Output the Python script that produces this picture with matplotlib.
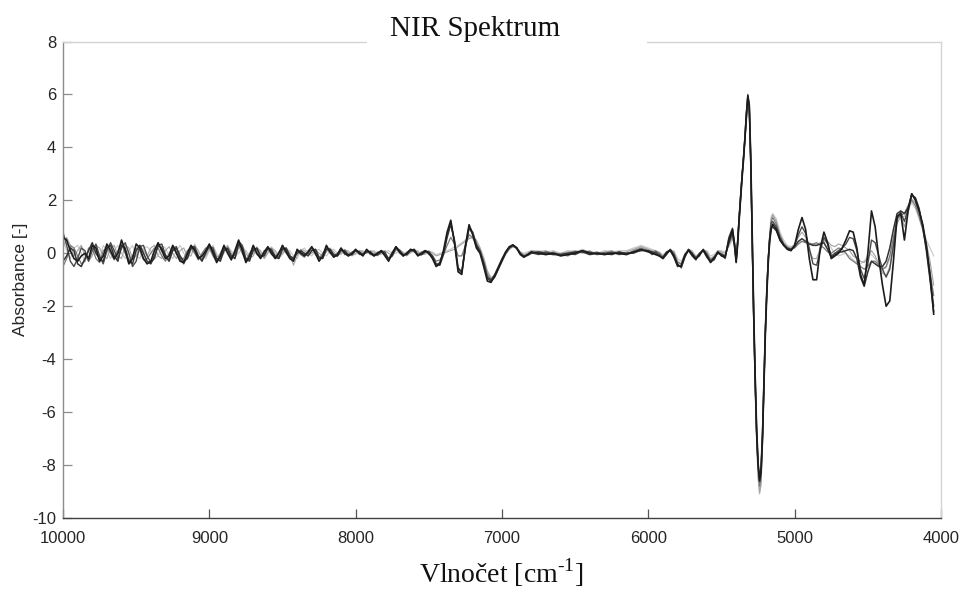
import numpy as np
import matplotlib
matplotlib.use("Agg")
import matplotlib.pyplot as plt
from matplotlib.patches import Rectangle

plt.rcParams["mathtext.fontset"] = "custom"
plt.rcParams["mathtext.rm"] = "Liberation Serif"

# Wavenumber grid [cm-1]: finer steps around the strong 5300 cm-1 band
wavenumber = np.concatenate([
    np.arange(10000, 6799, -25),
    np.arange(6750, 5999, -50),
    np.arange(5975, 5424, -25),
    np.arange(5410, 5159, -10),
    np.arange(5150, 4049, -25),
])

spectrum_1 = [
    0.6, 0.5, 0.1, -0.2, -0.3, -0.1, 0.0, -0.2,
    0.3, 0.2, -0.3, -0.1, 0.35, 0.1, -0.2, 0.0,
    0.5, 0.1, -0.4, -0.2, 0.35, 0.2, -0.2, -0.4,
    -0.3, 0.1, 0.4, 0.1, -0.2, -0.1, 0.3, 0.0,
    -0.3, -0.35, 0.0, 0.3, 0.1, -0.2, -0.1, 0.1,
    0.35, 0.0, -0.35, -0.1, 0.3, 0.0, -0.25, 0.1,
    0.5, 0.1, -0.35, -0.1, 0.3, 0.0, -0.2, 0.05,
    0.25, 0.0, -0.2, 0.0, 0.3, 0.05, -0.2, -0.3,
    0.15, 0.0, -0.1, 0.05, 0.25, 0.0, -0.3, -0.1,
    0.3, 0.05, -0.15, -0.05, 0.2, 0.0, -0.1, 0.0,
    0.15, 0.0, -0.1, 0.15, 0.0, -0.1, 0.0, 0.1,
    -0.1, -0.3, 0.0, 0.25, 0.05, -0.1, 0.0, 0.15,
    0.1, -0.1, 0.0, 0.1, 0.0, -0.2, -0.5, -0.4,
    0.1, 0.8, 1.25, 0.4, -0.7, -0.8, 0.3, 1.08,
    0.7, 0.2, 0.0, -0.5, -1.05, -1.1, -0.85, -0.55,
    -0.25, 0.05, 0.25, 0.32, 0.2, -0.05, -0.15, -0.05,
    0.05,
    0.0, -0.05, 0.0, -0.1, -0.05, 0.0, 0.1, 0.0,
    0.0, -0.05, 0.0, 0.0, -0.05, 0.05, 0.15, 0.05,
    0.0, -0.05, -0.1, -0.2, 0.0, 0.12, -0.1, -0.45, -0.5, -0.1, 0.13, -0.05,
    -0.2, -0.05, 0.13, -0.1, -0.35, -0.2, 0.05, -0.1, -0.15, 0.5, 0.9,
    0.3, -0.35, 0.3, 1.2, 2.0, 2.8, 3.5, 4.3, 5.2, 5.95, 5.6, 3.6, 0.6,
    -2.2, -4.6, -6.6, -7.9, -8.6, -8.3, -7.0, -5.0, -3.0, -1.5, -0.3, 0.5, 0.9,
    1.1, 0.9, 0.5, 0.3, 0.15, 0.1, 0.3, 0.9,
    1.35, 0.9, -0.2, -1.0, -1.0, 0.2, 0.8, 0.4,
    -0.2, -0.1, 0.0, 0.2, 0.5, 0.85, 0.8, 0.2,
    -0.8, -1.2, 0.0, 1.6, 1.0, -0.2, -1.2, -2.0,
    -1.8, -0.3, 1.4, 1.5, 0.5, 1.6, 2.25, 2.0,
    1.6, 1.1, 0.3, -0.8, -2.3,
]

spectrum_2 = [
    -0.3, -0.1, 0.2, 0.1, -0.4, -0.5, -0.2, 0.1,
    0.4, 0.0, -0.2, -0.3, 0.2, 0.3, -0.1, -0.3,
    0.3, 0.2, -0.3, -0.4, 0.1, 0.3, 0.0, -0.3,
    -0.4, -0.1, 0.3, 0.2, -0.1, -0.3, 0.1, 0.2,
    -0.1, -0.3, -0.2, 0.2, 0.2, -0.1, -0.3, 0.0,
    0.3, 0.1, -0.2, -0.3, 0.1, 0.2, -0.1, -0.2,
    0.35, 0.2, -0.2, -0.25, 0.1, 0.2, -0.1, -0.1,
    0.2, 0.1, -0.15, -0.2, 0.15, 0.2, -0.1, -0.2,
    0.0, 0.1, 0.0, -0.1, 0.1, 0.15, -0.15, -0.2,
    0.15, 0.15, -0.05, -0.1, 0.1, 0.1, -0.05, -0.05,
    0.1, 0.05, -0.05, 0.05, 0.05, -0.05, -0.05, 0.05,
    0.0, -0.2, -0.1, 0.2, 0.1, -0.05, -0.05, 0.1,
    0.15, -0.05, -0.05, 0.05, 0.05, -0.1, -0.4, -0.45,
    -0.05, 0.6, 1.1, 0.5, -0.55, -0.7, 0.2, 0.95,
    0.75, 0.3, 0.05, -0.4, -0.95, -1.05, -0.9, -0.6,
    -0.3, 0.0, 0.2, 0.3, 0.22, 0.0, -0.12, -0.08,
    0.0,
    0.05, 0.0, -0.05, -0.05, 0.0, 0.05, 0.05, -0.05,
    0.0, 0.0, -0.05, 0.05, 0.0, 0.05, 0.1, 0.1,
    0.05, 0.0, -0.1, -0.15, 0.05, 0.1, -0.15, -0.5, -0.45, -0.05, 0.1, -0.1,
    -0.25, 0.0, 0.1, -0.15, -0.3, -0.15, 0.0, -0.05, -0.1, 0.4, 0.8,
    0.2, -0.3, 0.4, 1.3, 2.1, 2.9, 3.6, 4.4, 5.3, 5.9, 5.5, 3.4, 0.4,
    -2.4, -4.8, -6.8, -8.0, -8.5, -8.1, -6.8, -4.8, -2.8, -1.3, -0.2, 0.6, 1.0,
    1.0, 0.85, 0.5, 0.3, 0.2, 0.15, 0.25, 0.45,
    0.55, 0.45, 0.35, 0.3, 0.3, 0.35, 0.4, 0.15,
    -0.15, -0.05, 0.05, 0.05, 0.1, 0.15, 0.1, -0.2,
    -0.9, -1.25, -0.7, -0.3, -0.4, -0.5, -0.5, -0.3,
    0.2, 0.9, 1.5, 1.6, 1.5, 1.7, 2.2, 2.1,
    1.7, 1.0, 0.1, -1.0, -2.2,
]

spectrum_3 = [
    0.8, 0.3, -0.3, -0.5, -0.2, 0.2, 0.1, -0.3,
    0.1, 0.35, -0.1, -0.4, 0.1, 0.4, 0.1, -0.2,
    0.2, 0.4, 0.0, -0.5, -0.3, 0.25, 0.3, -0.1,
    -0.35, -0.2, 0.3, 0.35, -0.05, -0.25, 0.2, 0.25,
    -0.2, -0.4, -0.1, 0.25, 0.25, -0.15, -0.25, 0.05,
    0.25, 0.2, -0.25, -0.2, 0.2, 0.15, -0.2, -0.05,
    0.45, 0.3, -0.25, -0.3, 0.2, 0.15, -0.15, -0.05,
    0.2, 0.15, -0.1, -0.15, 0.2, 0.1, -0.15, -0.25,
    0.1, 0.05, -0.05, 0.0, 0.2, 0.1, -0.2, -0.15,
    0.2, 0.1, -0.1, -0.1, 0.15, 0.05, -0.1, 0.0,
    0.1, 0.05, -0.05, 0.1, 0.05, -0.1, -0.05, 0.1,
    0.05, -0.25, -0.05, 0.25, 0.1, -0.1, 0.0, 0.1,
    0.1, -0.05, -0.05, 0.1, 0.05, -0.15, -0.45, -0.35,
    0.05, 0.7, 1.15, 0.45, -0.6, -0.75, 0.25, 1.0,
    0.8, 0.35, 0.1, -0.35, -0.9, -1.0, -0.8, -0.5,
    -0.2, 0.05, 0.22, 0.28, 0.18, -0.02, -0.1, -0.05,
    0.02,
    -0.05, 0.05, 0.0, -0.05, 0.0, -0.05, 0.08, 0.05,
    -0.05, 0.0, 0.05, -0.05, 0.0, 0.0, 0.12, 0.1,
    -0.05, 0.05, -0.05, -0.2, -0.05, 0.15, -0.05, -0.4, -0.55, -0.15, 0.15, 0.0,
    -0.2, -0.1, 0.15, -0.05, -0.3, -0.25, 0.05, -0.05, -0.2, 0.6, 0.95,
    0.35, -0.3, 0.35, 1.25, 2.05, 2.85, 3.55, 4.35, 5.25, 6.0, 5.55, 3.55, 0.5,
    -2.3, -4.7, -6.7, -8.0, -8.6, -8.2, -6.9, -4.9, -2.9, -1.4, -0.2, 0.6, 1.15,
    1.2, 1.0, 0.6, 0.35, 0.15, 0.1, 0.3, 0.7,
    1.0, 0.75, 0.2, -0.4, -0.45, 0.1, 0.6, 0.35,
    -0.1, 0.0, 0.1, 0.2, 0.35, 0.6, 0.55, 0.1,
    -0.6, -0.95, -0.4, 0.5, 0.4, -0.1, -0.6, -0.9,
    -0.6, 0.3, 1.3, 1.55, 1.2, 1.7, 2.25, 2.05,
    1.65, 1.05, 0.2, -0.9, -2.0,
]

spectrum_4 = [
    -0.5, -0.2, 0.3, 0.2, -0.1, -0.4, -0.3, 0.2,
    0.2, -0.2, -0.35, 0.1, 0.2, 0.0, -0.25, 0.1,
    0.35, 0.0, -0.3, -0.1, 0.2, 0.1, -0.25, -0.2,
    0.0, 0.2, 0.2, -0.1, -0.3, 0.0, 0.25, 0.05,
    -0.2, -0.2, 0.1, 0.2, 0.0, -0.25, 0.0, 0.2,
    0.2, -0.1, -0.3, 0.0, 0.25, 0.05, -0.2, 0.0,
    0.3, 0.0, -0.3, 0.0, 0.2, -0.05, -0.15, 0.1,
    0.15, -0.05, -0.15, 0.05, 0.2, 0.0, -0.15, -0.15,
    0.1, -0.05, -0.15, 0.1, 0.2, -0.05, -0.2, 0.0,
    0.2, 0.0, -0.1, 0.0, 0.15, -0.05, -0.05, 0.05,
    0.1, -0.05, 0.0, 0.1, -0.05, -0.05, 0.05, 0.05,
    -0.05, -0.2, 0.05, 0.2, 0.0, -0.1, 0.05, 0.1,
    0.05, -0.05, 0.05, 0.1, -0.05, -0.1, -0.3, -0.25,
    -0.05, 0.3, 0.6, 0.35, -0.1, -0.1, 0.3, 0.7,
    0.6, 0.3, 0.05, -0.3, -0.8, -1.0, -0.85, -0.55,
    -0.25, 0.0, 0.2, 0.28, 0.2, 0.0, -0.1, -0.05,
    0.05,
    0.0, -0.05, 0.05, -0.05, -0.1, 0.05, 0.1, 0.0,
    0.05, -0.05, 0.0, 0.05, -0.05, 0.1, 0.2, 0.1,
    0.05, 0.1, 0.0, -0.15, 0.05, 0.15, 0.0, -0.35, -0.4, -0.05, 0.15, 0.0,
    -0.15, 0.0, 0.15, 0.0, -0.25, -0.15, 0.05, 0.0, -0.1, 0.35, 0.7,
    0.25, -0.2, 0.45, 1.3, 2.1, 2.9, 3.6, 4.3, 5.1, 5.8, 5.45, 3.4, 0.3,
    -2.5, -4.9, -6.9, -8.2, -8.8, -8.5, -7.1, -5.0, -2.9, -1.3, -0.1, 0.7, 1.2,
    1.35, 1.1, 0.65, 0.35, 0.2, 0.15, 0.2, 0.35,
    0.45, 0.4, 0.35, 0.35, 0.4, 0.3, 0.2, 0.05,
    0.0, 0.1, 0.2, 0.15, 0.0, -0.2, -0.3, -0.4,
    -0.5, -0.6, -0.5, -0.3, -0.3, -0.45, -0.6, -0.5,
    -0.1, 0.6, 1.3, 1.45, 1.5, 1.8, 2.0, 1.8,
    1.4, 0.9, 0.2, -0.7, -1.6,
]

spectrum_5 = [
    0.2, 0.6, 0.3, -0.1, 0.1, 0.3, -0.1, -0.3,
    -0.1, 0.3, 0.2, -0.1, -0.2, 0.2, 0.3, -0.1,
    -0.2, 0.3, 0.2, -0.2, -0.1, 0.3, 0.1, -0.1,
    0.2, 0.3, -0.1, -0.2, 0.1, 0.25, 0.0, -0.2,
    0.1, 0.2, -0.1, -0.1, 0.3, 0.1, -0.2, -0.1,
    0.15, 0.25, -0.1, -0.2, 0.1, 0.3, 0.0, -0.2,
    0.2, 0.3, 0.0, -0.2, -0.1, 0.2, 0.1, -0.2,
    0.0, 0.2, 0.1, -0.1, 0.0, 0.2, 0.0, -0.45,
    -0.1, 0.15, 0.1, -0.05, 0.0, 0.15, 0.0, -0.1,
    0.05, 0.2, 0.05, -0.1, 0.0, 0.15, 0.05, -0.1,
    0.0, 0.1, 0.05, 0.0, 0.1, 0.05, -0.1, 0.0,
    0.1, 0.0, -0.1, 0.1, 0.15, 0.0, -0.1, 0.05,
    0.15, 0.05, -0.05, 0.0, 0.1, 0.0, -0.1, -0.05,
    0.0, 0.05, 0.1, 0.15, 0.25, 0.35, 0.45, 0.55,
    0.6, 0.5, 0.2, -0.2, -0.7, -0.95, -0.9, -0.6,
    -0.3, -0.05, 0.15, 0.25, 0.2, 0.05, -0.05, 0.0,
    0.1,
    0.05, 0.1, -0.05, 0.0, 0.05, 0.1, 0.0, 0.1,
    -0.05, 0.05, 0.1, 0.0, 0.05, 0.15, 0.25, 0.15,
    0.1, 0.05, 0.05, -0.1, 0.0, 0.1, 0.05, -0.3, -0.4, -0.1, 0.1, 0.05,
    -0.15, -0.05, 0.1, 0.05, -0.2, -0.1, 0.1, 0.05, 0.0, 0.3, 0.6,
    0.3, -0.1, 0.5, 1.4, 2.2, 2.9, 3.6, 4.3, 5.0, 5.7, 5.3, 3.2, 0.2,
    -2.7, -5.1, -7.1, -8.4, -9.05, -8.7, -7.3, -5.2, -3.1, -1.4, -0.1, 0.75, 1.3,
    1.45, 1.2, 0.7, 0.4, 0.25, 0.2, 0.35, 0.6,
    0.8, 0.6, 0.1, -0.2, -0.2, 0.2, 0.5, 0.45,
    0.3, 0.25, 0.35, 0.3, 0.2, 0.1, -0.1, -0.2,
    -0.3, -0.35, -0.2, 0.1, -0.1, -0.4, -0.75, -0.85,
    -0.5, 0.3, 1.1, 1.45, 1.0, 1.55, 2.05, 1.9,
    1.5, 1.0, 0.4, -0.3, -1.2,
]

spectrum_6 = [
    0.5, 0.1, -0.2, 0.2, 0.3, 0.0, -0.3, 0.1,
    0.3, 0.0, -0.2, 0.3, 0.1, -0.2, 0.1, 0.3,
    0.0, -0.2, 0.1, 0.3, -0.1, -0.2, 0.2, 0.25,
    0.1, -0.2, -0.1, 0.3, 0.2, -0.1, -0.2, 0.1,
    0.3, 0.0, -0.2, 0.1, 0.35, 0.0, -0.1, -0.2,
    0.1, 0.3, 0.0, -0.2, 0.0, 0.25, 0.1, -0.1,
    0.0, 0.2, 0.1, -0.1, 0.0, 0.25, 0.0, -0.2,
    0.1, 0.25, 0.0, -0.2, -0.05, 0.15, 0.1, -0.1,
    -0.2, 0.1, 0.2, 0.0, -0.1, 0.1, 0.15, 0.0,
    -0.1, 0.1, 0.15, 0.0, -0.05, 0.1, 0.1, -0.05,
    -0.05, 0.1, 0.1, 0.0, 0.05, 0.1, 0.0, -0.05,
    0.05, 0.1, 0.0, 0.0, 0.1, 0.05, -0.05, 0.0,
    0.1, 0.1, -0.05, -0.05, 0.05, 0.05, -0.05, 0.0,
    0.05, 0.1, 0.15, 0.25, 0.3, 0.4, 0.5, 0.6,
    0.55, 0.45, 0.2, -0.15, -0.65, -0.9, -0.85, -0.55,
    -0.25, 0.0, 0.15, 0.25, 0.2, 0.05, 0.0, 0.05,
    0.1,
    0.1, 0.05, 0.1, 0.0, 0.1, 0.05, 0.15, 0.05,
    0.0, 0.1, 0.05, 0.1, 0.1, 0.2, 0.3, 0.2,
    0.15, 0.1, 0.0, -0.05, 0.05, 0.1, 0.1, -0.2, -0.3, 0.0, 0.15, 0.1,
    -0.1, 0.0, 0.1, 0.1, -0.1, -0.05, 0.1, 0.1, 0.05, 0.25, 0.5,
    0.35, 0.0, 0.55, 1.45, 2.25, 2.95, 3.6, 4.25, 4.95, 5.6, 5.2, 3.1, 0.1,
    -2.8, -5.2, -7.2, -8.5, -9.1, -8.8, -7.4, -5.3, -3.2, -1.5, -0.2, 0.8, 1.4,
    1.5, 1.3, 0.8, 0.5, 0.3, 0.25, 0.3, 0.4,
    0.45, 0.45, 0.4, 0.35, 0.35, 0.4, 0.45, 0.4,
    0.2, 0.0, -0.1, -0.05, 0.0, -0.1, -0.25, -0.35,
    -0.4, -0.3, -0.1, -0.05, -0.2, -0.4, -0.6, -0.55,
    -0.2, 0.5, 1.2, 1.35, 1.4, 1.7, 1.9, 1.7,
    1.3, 0.9, 0.5, 0.2, -0.1,
]

# drawn light to dark so the dark spectra sit on top
spectra = [spectrum_6, spectrum_5, spectrum_4, spectrum_3, spectrum_2, spectrum_1]
colors = ["#c6c6c6", "#a2a2a2", "#787878", "#4a4a4a", "#333333", "#1c1c1c"]
widths = [0.8, 0.8, 0.9, 1.0, 1.1, 1.2]

x_ticks = [10000, 9000, 8000, 7000, 6000, 5000, 4000]
y_ticks = [-10, -8, -6, -4, -2, 0, 2, 4, 6, 8]

fig = plt.figure(figsize=(9.62, 5.92), dpi=100)
ax = fig.add_axes([63 / 962, 1 - 518 / 592, 878 / 962, 476.5 / 592])

for values, c, lw in zip(spectra, colors, widths):
    assert len(values) == len(wavenumber)
    ax.plot(wavenumber, values, color=c, lw=lw, solid_joinstyle="round")

ax.set_xlim(10000, 4000)
ax.set_ylim(-10, 8)
ax.set_xticks(x_ticks)
ax.set_yticks(y_ticks)
ax.set_xticklabels([str(t) for t in x_ticks], fontfamily="Liberation Sans", fontsize=12, color="#262626")
ax.set_yticklabels([str(t) for t in y_ticks], fontfamily="Liberation Sans", fontsize=12, color="#262626")
ax.tick_params(axis="x", direction="in", length=6.5, width=0.9, color="#555555", pad=9.5)
ax.tick_params(axis="y", direction="in", length=6.5, width=0.9, color="#8c8c8c", pad=5)

ax.spines["left"].set_color("#8c8c8c")
ax.spines["bottom"].set_color("#404040")
ax.spines["top"].set_color("#d4d4d4")
ax.spines["right"].set_color("#d4d4d4")
for s in ax.spines.values():
    s.set_linewidth(1.0)

ax.set_ylabel("Absorbance [-]", fontfamily="Liberation Sans", fontsize=12.5, color="#262626", labelpad=3)

# title on a white band interrupting the top frame line
fig.patches.append(Rectangle((367 / 962, 1 - 50 / 592), 280 / 962, 40 / 592,
                             transform=fig.transFigure, facecolor="white",
                             edgecolor="none", zorder=5))
fig.text(475 / 962, 1 - 36 / 592, "NIR Spektrum", ha="center", va="baseline",
         fontfamily="Liberation Serif", fontsize=21, color="#111111", zorder=6)

fig.text(501 / 962, 1 - 583 / 592, "Vlnočet [cm$^{\\text{-1}}$]", ha="center",
         va="baseline", fontfamily="Liberation Serif", fontsize=20, color="#111111")

fig.savefig("out.png", dpi=100)
